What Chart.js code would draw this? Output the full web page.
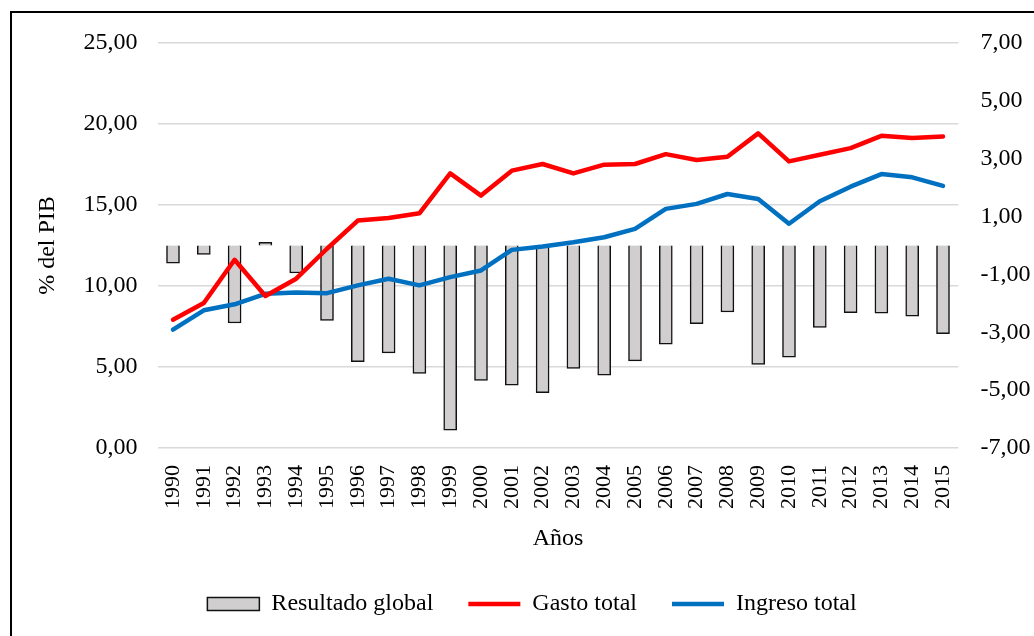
<!DOCTYPE html>
<html><head><meta charset="utf-8">
<script src="https://cdn.jsdelivr.net/npm/chart.js@4/dist/chart.umd.min.js"></script>
<style>html,body{margin:0;padding:0;background:#fff;overflow:hidden}#wrap{position:absolute;left:0;top:0;width:1034px;height:636px}</style>
</head><body><div id="wrap"><canvas id="c" width="1034" height="636"></canvas></div>
<script>
const years = ['1990','1991','1992','1993','1994','1995','1996','1997','1998','1999','2000','2001','2002','2003','2004','2005','2006','2007','2008','2009','2010','2011','2012','2013','2014','2015'];
const resultadoGlobal = [-0.61, -0.31, -2.68, 0.11, -0.95, -2.59, -4.02, -3.71, -4.42, -6.38, -4.66, -4.83, -5.09, -4.25, -4.48, -3.99, -3.41, -2.70, -2.30, -4.11, -3.86, -2.83, -2.32, -2.34, -2.44, -3.05];
const gastoTotal = [7.92, 8.95, 11.62, 9.38, 10.45, 12.3, 14.04, 14.2, 14.49, 16.95, 15.58, 17.12, 17.53, 16.95, 17.49, 17.53, 18.14, 17.78, 17.98, 19.42, 17.69, 18.1, 18.51, 19.27, 19.13, 19.23];
const ingresoTotal = [7.31, 8.5, 8.87, 9.52, 9.6, 9.56, 10.04, 10.45, 10.04, 10.55, 10.96, 12.23, 12.44, 12.7, 13.01, 13.53, 14.76, 15.07, 15.68, 15.37, 13.84, 15.23, 16.13, 16.91, 16.71, 16.18];
const leftTicks = {min: 0, max: 25, step: 5};
const rightTicks = {min: -7, max: 7, step: 2};

const FONT = 'Liberation Serif';
const fmt = v => Number(v).toFixed(2).replace('.', ',');

const frame = {
  id: 'frame',
  afterDraw(chart) {
    const ctx = chart.ctx;
    ctx.save();
    ctx.strokeStyle = '#000';
    ctx.lineWidth = 2;
    ctx.beginPath();
    ctx.moveTo(11, 700);
    ctx.lineTo(11, 12);
    ctx.lineTo(1100, 12);
    ctx.stroke();
    ctx.restore();
  }
};

new Chart(document.getElementById('c'), {
  type: 'bar',
  data: {
    labels: years,
    datasets: [
      {type: 'bar', label: 'Resultado global', data: resultadoGlobal, yAxisID: 'y1',
       backgroundColor: '#d0cece', borderColor: '#111', borderWidth: 1.5, barThickness: 13,
       order: 2, pointStyle: 'rect'},
      {type: 'line', label: 'Gasto total', data: gastoTotal, yAxisID: 'y',
       borderColor: '#ff0000', backgroundColor: '#ff0000', borderWidth: 4.5, pointRadius: 0,
       tension: 0, order: 0, pointStyle: 'line', borderCapStyle: 'round', borderJoinStyle: 'round'},
      {type: 'line', label: 'Ingreso total', data: ingresoTotal, yAxisID: 'y',
       borderColor: '#0070c0', backgroundColor: '#0070c0', borderWidth: 4.5, pointRadius: 0,
       tension: 0, order: 1, pointStyle: 'line', borderCapStyle: 'round', borderJoinStyle: 'round'}
    ]
  },
  options: {
    responsive: false,
    animation: false,
    devicePixelRatio: 1,
    layout: {padding: {top: 43, left: 30, right: 0, bottom: 10}},
    plugins: {
      legend: {
        position: 'bottom',
        labels: {
          usePointStyle: true, pointStyleWidth: 52, boxHeight: 13,
          font: {family: FONT, size: 24}, color: '#000', padding: 35,
          sort: (a, b) => a.datasetIndex - b.datasetIndex
        }
      },
      tooltip: {enabled: false}
    },
    scales: {
      x: {
        offset: true,
        grid: {display: false, drawTicks: false},
        border: {display: false},
        ticks: {minRotation: 90, maxRotation: 90, autoSkip: false, font: {family: FONT, size: 22}, color: '#000', padding: 17},
        title: {display: true, text: 'Años', font: {family: FONT, size: 24}, color: '#000', padding: {top: 0, bottom: 4}},
        afterFit(s) { s.height = 109; }
      },
      y: {
        position: 'left', min: leftTicks.min, max: leftTicks.max,
        ticks: {stepSize: leftTicks.step, callback: fmt, font: {family: FONT, size: 24}, color: '#000', padding: 20},
        grid: {color: '#d9d9d9', lineWidth: 1.5, drawTicks: false},
        border: {display: false},
        title: {display: true, text: '% del PIB', font: {family: FONT, size: 24}, color: '#000', padding: {top: 3, bottom: 0}},
        afterFit(s) { s.width = 127.6; }
      },
      y1: {
        position: 'right', min: rightTicks.min, max: rightTicks.max,
        ticks: {stepSize: rightTicks.step, callback: fmt, font: {family: FONT, size: 24}, color: '#000', padding: 22},
        grid: {display: false, drawTicks: false},
        border: {display: false},
        afterFit(s) { s.width = 75.6; }
      }
    }
  },
  plugins: [frame]
});
</script>
</body></html>
